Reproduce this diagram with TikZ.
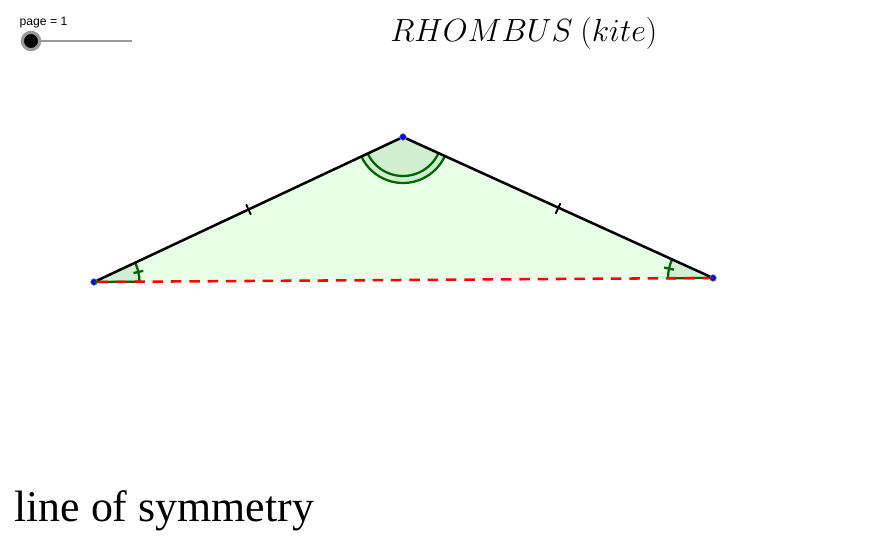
\documentclass[tikz,border=0pt]{standalone}
\usepackage{fontspec}
\usepackage{graphicx}
\setmainfont{Liberation Serif}
\newfontfamily\slidefont{Liberation Sans}
\usetikzlibrary{calc,backgrounds}
\definecolor{kitefill}{HTML}{E6FFE6}
\definecolor{anglefill}{HTML}{D0EFD0}
\definecolor{anglegreen}{HTML}{006400}
\definecolor{slidegrey}{HTML}{999999}
\tikzset{
  vertex/.style={circle,fill=blue,draw=gray,line width=.4pt,minimum size=5pt,inner sep=0pt},
  side/.style={black,line width=1.9pt},
  tick/.style={black,line width=1.4pt},
  symline/.style={red,line width=1.9pt,dash pattern=on 7.9pt off 5.85pt},
  anglearc/.style={anglegreen,line width=1.7pt},
  labeltext/.style={inner sep=0pt,anchor=base west},
}
\begin{document}
\begin{tikzpicture}[x=.75pt,y=.75pt]
\useasboundingbox (0,0) rectangle (882,560);
\node[vertex] (A) at (94,278) {};
\node[vertex] (B) at (403,423) {};
\node[vertex] (C) at (713,282) {};
\coordinate (P) at (403,423);
\coordinate (Q) at (94,278);
\coordinate (R) at (713,282);
\begin{scope}[on background layer]
  \fill[kitefill] (Q) -- (P) -- (R) -- cycle;
  \fill[anglefill] (Q) -- ($(Q)+(.37:45.5)$) arc (.37:25.14:45.5) -- cycle;
  \fill[anglefill] (P) -- ($(P)+(205.14:46)$) arc (205.14:335.54:46) -- cycle;
  \fill[anglefill] (R) -- ($(R)+(155.54:45)$) arc (155.54:180.37:45) -- cycle;
\end{scope}
% angle marks
\draw[anglearc] (Q) -- ($(Q)+(.37:45.5)$) arc (.37:25.14:45.5);
\draw[anglearc] (R) -- ($(R)+(180.37:45)$) arc (180.37:155.54:45);
\draw[anglearc] ($(P)+(205.14:39)$) arc (205.14:335.54:39);
\draw[anglearc] ($(P)+(205.14:46)$) arc (205.14:335.54:46);
\draw[anglearc] ($(Q)+(12.75:40.5)$) -- ($(Q)+(12.75:50.5)$);
\draw[anglearc] ($(R)+(167.95:40)$) -- ($(R)+(167.95:50)$);
% sides
\draw[side] (A) -- (B);
\draw[side] (B) -- (C);
\draw[symline] (A) -- (C);
% equal-side ticks
\coordinate (t1) at (248.5,350.5);
\coordinate (t2) at (558,351.5);
\draw[tick] ($(t1)+(-2.4,5.2)$) -- ($(t1)+(2.4,-5.2)$);
\draw[tick] ($(t2)+(-2.4,-5.2)$) -- ($(t2)+(2.4,5.2)$);
% slider
\node[inner sep=0pt,font=\slidefont\fontsize{9.1pt}{10pt}\selectfont] (pagelabel) at (43.5,537.5) {page = 1};
\coordinate (slideend) at (131.5,519);
\node[circle,fill=black,draw=slidegrey,line width=2.4pt,minimum size=13pt,inner sep=0pt] (thumb) at (31,519) {};
\draw[slidegrey,line width=2pt] (thumb) -- (slideend);
% texts
\node[labeltext,font=\fontsize{23.5pt}{28pt}\selectfont] (title) at (390,518.5) {\scalebox{0.967}{$RHOMBUS\ (kite)$}};
\node[labeltext,font=\fontsize{32.9pt}{38pt}\selectfont] (sym) at (14,38.5) {line of symmetry};
\end{tikzpicture}
\end{document}
